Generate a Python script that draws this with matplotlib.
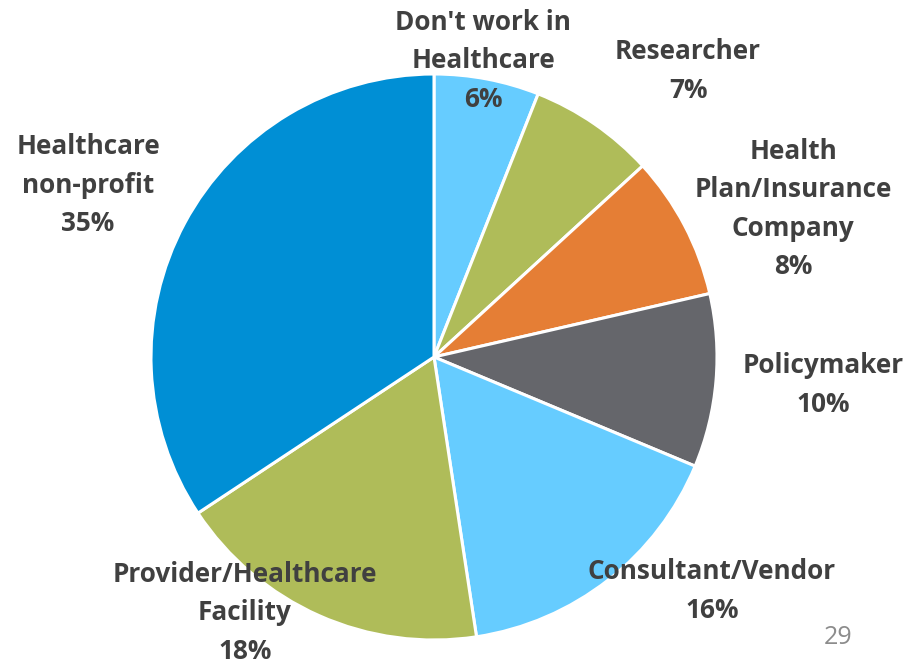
import matplotlib
matplotlib.use("Agg")
import matplotlib.pyplot as plt

labels = ["Don't work in\nHealthcare", "Researcher", "Health\nPlan/Insurance\nCompany",
          "Policymaker", "Consultant/Vendor", "Provider/Healthcare\nFacility",
          "Healthcare\nnon-profit"]
values = [6.0, 7.2, 8.2, 9.9, 16.3, 18.1, 34.3]
pct_labels = ["6%", "7%", "8%", "10%", "16%", "18%", "35%"]
colors = ["#66CCFF", "#AFBC59", "#E57E35", "#65666B", "#66CCFF", "#AFBC59", "#008FD5"]
page_number = "29"

W, H = 922, 669
fig = plt.figure(figsize=(W / 100, H / 100), dpi=100)
cx, cy, r = 434, 357, 283
ax = fig.add_axes([(cx - r) / W, (H - cy - r) / H, 2 * r / W, 2 * r / H])
ax.pie(values, colors=colors, startangle=90, counterclock=False,
       wedgeprops=dict(edgecolor="white", linewidth=2.2), radius=1)
ax.set_xlim(-1, 1)
ax.set_ylim(-1, 1)
ax.set_aspect("equal")
ax.axis("off")

# label centres in pixel coordinates of the reference
label_px = [(483, 61), (688, 71), (793, 209), (823, 385), (712, 591), (245, 613), (88, 185)]
for lab, p, (px, py) in zip(labels, pct_labels, label_px):
    fig.text(px / W, 1 - py / H, f"{lab}\n{p}", ha="center", va="center",
             fontsize=18.8, fontweight="bold", family="Open Sans", color="#404040",
             linespacing=1.55)

fig.text(838 / W, 1 - 638 / H, page_number, ha="center", va="center",
         fontsize=18, family="Open Sans", color="#8C8C8C")

fig.savefig("out.png", dpi=100)
